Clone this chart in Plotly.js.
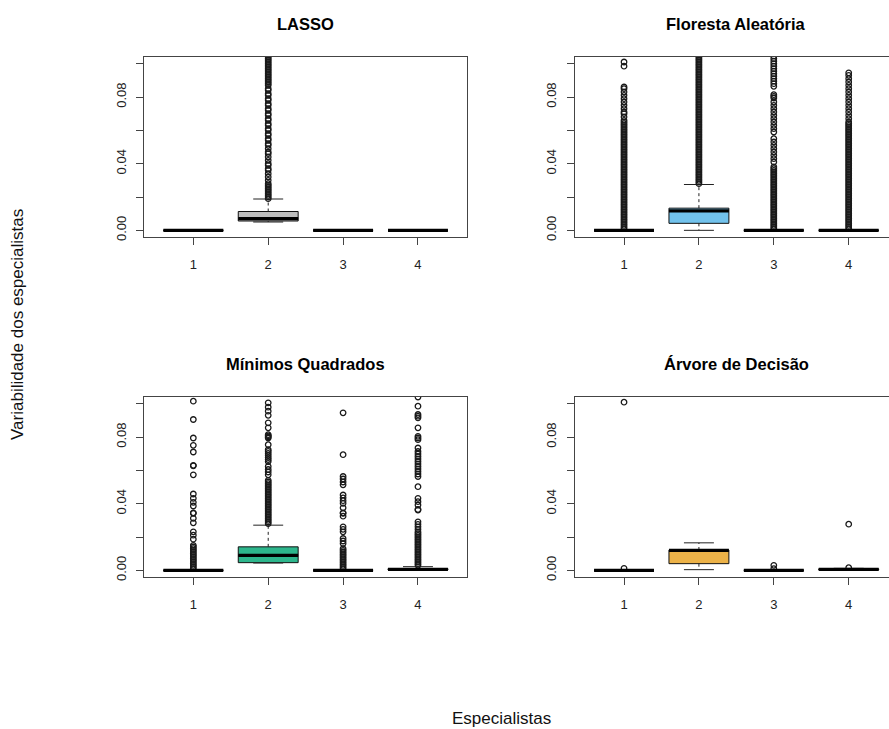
<!DOCTYPE html>
<html>
<head>
<meta charset="utf-8">
<script src="https://cdn.plot.ly/plotly-3.0.1.min.js"></script>
<style>
  html, body { margin: 0; padding: 0; background: #ffffff; }
  #chart { width: 889px; height: 729px; }
</style>
</head>
<body>
<div id="chart"></div>
<script>
// ---------------- DATA ----------------
const categories = ['1', '2', '3', '4'];
const panelTitles = ['LASSO', 'Floresta Aleatória', 'Mínimos Quadrados', 'Árvore de Decisão'];
const xAxisTitle = 'Especialistas';
const yAxisTitle = 'Variabilidade dos especialistas';
const yTickValues = [0, 0.02, 0.04, 0.06, 0.08, 0.10];
const yTickLabels = ['0.00', '', '0.04', '', '0.08', ''];

// LASSO
const lassoQ1     = [0, 0.0056, 0, 0];
const lassoMedian = [0, 0.0070, 0, 0];
const lassoQ3     = [0, 0.0113, 0, 0];
const lassoLower  = [0, 0.0050, 0, 0];
const lassoUpper  = [0, 0.0188, 0, 0];
const lassoOut1 = [];
const lassoOut2 = [0.019,0.020,0.021,0.022,0.023,0.024,0.025,0.026,0.027,0.028,
  0.030,0.032,0.034,0.036,0.037,0.039,0.040,0.042,0.044,0.046,0.047,0.049,0.051,0.052,
  0.054,0.055,0.057,0.058,0.060,0.061,0.063,0.064,0.066,0.067,0.069,0.070,0.072,0.073,
  0.075,0.076,0.078,0.079,0.081,0.082,0.084,0.085,0.087,
  0.088,0.089,0.090,0.091,0.092,0.093,0.094,0.095,0.096,0.097,0.098,0.099,0.100,0.101,
  0.102,0.103,0.104,0.105,0.106];
const lassoOut3 = [];
const lassoOut4 = [];

// Floresta Aleatória
const florestaQ1     = [0, 0.0042, 0, 0];
const florestaMedian = [0, 0.0117, 0, 0];
const florestaQ3     = [0, 0.0133, 0, 0];
const florestaLower  = [0, 0.0000, 0, 0];
const florestaUpper  = [0, 0.0275, 0, 0];
const florestaOut1 = [0.001,0.002,0.003,0.004,0.005,0.006,0.007,0.008,0.009,0.010,
  0.011,0.012,0.013,0.014,0.015,0.016,0.017,0.018,0.019,0.020,0.021,0.022,0.023,0.024,
  0.025,0.026,0.027,0.028,0.029,0.030,0.031,0.032,0.033,0.034,0.035,0.036,0.037,0.038,
  0.039,0.040,0.041,0.042,0.043,0.044,0.045,0.046,0.047,0.048,0.049,0.050,0.051,0.052,
  0.053,0.054,0.055,0.056,0.057,0.058,0.059,0.060,0.061,0.062,0.063,0.064,0.065,0.066,
  0.068,0.070,0.071,0.073,0.075,0.077,0.079,0.081,0.083,0.085,0.086,0.0985,0.101];
const florestaOut2 = [0.028,0.029,0.030,0.031,0.032,0.033,0.034,0.035,0.036,0.037,
  0.038,0.039,0.040,0.041,0.042,0.043,0.044,0.045,0.046,0.047,0.048,0.049,0.050,0.051,
  0.052,0.053,0.054,0.055,0.056,0.057,0.058,0.059,0.060,0.061,0.062,0.063,0.064,0.065,
  0.066,0.067,0.068,0.069,0.070,0.071,0.072,0.073,0.074,0.075,0.076,0.077,0.078,0.079,
  0.080,0.081,0.082,0.083,0.084,0.085,0.086,0.087,0.088,0.089,0.090,0.091,0.092,0.093,
  0.094,0.095,0.096,0.097,0.098,0.099,0.100,0.101,0.102,0.103,0.104,0.105,0.106];
const florestaOut3 = [0.001,0.002,0.003,0.004,0.005,0.006,0.007,0.008,0.009,0.010,
  0.011,0.012,0.013,0.014,0.015,0.016,0.017,0.018,0.019,0.020,0.021,0.022,0.023,0.024,
  0.025,0.026,0.027,0.028,0.029,0.030,0.031,0.032,0.033,0.034,0.035,0.036,0.037,0.038,
  0.041,0.043,0.045,0.047,0.049,0.051,0.053,0.055,
  0.059,0.061,0.063,0.065,0.067,0.069,0.071,0.073,0.075,0.077,
  0.0794,0.0804,0.0814,
  0.0864,0.088,0.0895,0.091,0.0925,0.094,0.0955,0.097,0.0985,0.100,0.1015,0.103,0.1045,0.106];
const florestaOut4 = [0.001,0.002,0.003,0.004,0.005,0.006,0.007,0.008,0.009,0.010,
  0.011,0.012,0.013,0.014,0.015,0.016,0.017,0.018,0.019,0.020,0.021,0.022,0.023,0.024,
  0.025,0.026,0.027,0.028,0.029,0.030,0.031,0.032,0.033,0.034,0.035,0.036,0.037,0.038,
  0.039,0.040,0.041,0.042,0.043,0.044,0.045,0.046,0.047,0.048,0.049,0.050,0.051,0.052,
  0.053,0.054,0.055,0.056,0.057,0.058,0.059,0.060,0.061,0.062,0.063,0.064,0.065,
  0.067,0.069,0.071,0.073,0.075,0.077,0.079,0.081,0.083,0.085,0.087,0.089,0.091,0.093,0.0945];

// Mínimos Quadrados
const minimosQ1     = [0, 0.0046, 0, 0.0002];
const minimosMedian = [0, 0.0090, 0, 0.0006];
const minimosQ3     = [0, 0.0141, 0, 0.0010];
const minimosLower  = [0, 0.0044, 0, 0.0000];
const minimosUpper  = [0, 0.0271, 0, 0.0022];
const minimosOut1 = [0.001,0.002,0.003,0.004,0.005,0.006,0.007,0.008,0.009,0.010,
  0.011,0.012,0.013,0.014,0.015,0.0187,0.0211,0.0231,0.0285,0.0312,0.0342,0.0345,0.0386,
  0.0408,0.0432,0.0458,0.0573,0.0627,0.0630,0.071,0.075,0.0794,0.0905,0.1015];
const minimosOut2 = [0.028,0.029,0.030,0.031,0.032,0.033,0.034,0.035,0.036,0.037,
  0.038,0.039,0.040,0.041,0.042,0.043,0.044,0.045,0.046,0.047,0.048,0.049,0.050,0.051,
  0.052,0.053,0.054,0.0573,0.0590,0.0605,0.0623,0.0653,0.0665,0.0677,0.0690,0.0702,
  0.0714,0.0724,0.0754,0.0794,0.0800,0.0807,0.0814,0.0855,0.0885,0.093,0.0955,0.0979,0.1005];
const minimosOut3 = [0.001,0.002,0.003,0.004,0.005,0.006,0.007,0.008,0.009,0.010,
  0.011,0.012,0.013,0.0161,0.0176,0.0191,0.0231,0.0246,0.0261,0.0325,0.0342,0.0345,
  0.0375,0.0402,0.0418,0.0435,0.0452,0.0513,0.0530,0.0548,0.0563,0.0694,0.0945];
const minimosOut4 = [0.003,0.004,0.005,0.006,0.007,0.008,0.009,0.010,0.011,0.012,
  0.013,0.014,0.015,0.016,0.017,0.018,0.019,0.020,0.021,0.022,0.023,0.0246,0.0261,
  0.0276,0.0291,0.0362,0.0365,0.0392,0.0412,0.0432,0.0502,0.0563,0.0578,0.0593,0.0608,
  0.0623,0.0638,0.0653,0.0668,0.0683,0.0698,0.0713,0.0734,0.0784,0.0794,0.0804,0.0855,
  0.0915,0.0925,0.0935,0.0985,0.104];

// Árvore de Decisão
const arvoreQ1     = [0, 0.0040, 0, 0.0002];
const arvoreMedian = [0, 0.0120, 0, 0.0006];
const arvoreQ3     = [0, 0.0122, 0, 0.0009];
const arvoreLower  = [0, 0.0004, 0, 0.0000];
const arvoreUpper  = [0, 0.0165, 0, 0.0012];
const arvoreOut1 = [0.0012, 0.1009];
const arvoreOut2 = [];
const arvoreOut3 = [0.0010, 0.0030];
const arvoreOut4 = [0.0016, 0.0277];

const boxColors = ['#bebebe', '#72c2ec', '#2db68c', '#ecb248'];

// ---------------- BUILD ----------------
const panels = [
  {q1: lassoQ1, med: lassoMedian, q3: lassoQ3, lo: lassoLower, hi: lassoUpper,
   out: [lassoOut1, lassoOut2, lassoOut3, lassoOut4]},
  {q1: florestaQ1, med: florestaMedian, q3: florestaQ3, lo: florestaLower, hi: florestaUpper,
   out: [florestaOut1, florestaOut2, florestaOut3, florestaOut4]},
  {q1: minimosQ1, med: minimosMedian, q3: minimosQ3, lo: minimosLower, hi: minimosUpper,
   out: [minimosOut1, minimosOut2, minimosOut3, minimosOut4]},
  {q1: arvoreQ1, med: arvoreMedian, q3: arvoreQ3, lo: arvoreLower, hi: arvoreUpper,
   out: [arvoreOut1, arvoreOut2, arvoreOut3, arvoreOut4]}
];

const xpos = categories.map((c, i) => i + 1);
const boxW = 0.8;
const traces = [];

panels.forEach((p, k) => {
  const xa = k === 0 ? 'x' : 'x' + (k + 1);
  const ya = k === 0 ? 'y' : 'y' + (k + 1);
  xpos.forEach((xv, i) => {
    traces.push({
      type: 'box', xaxis: xa, yaxis: ya, x: [xv],
      q1: [p.q1[i]], median: [p.med[i]], q3: [p.q3[i]],
      lowerfence: [p.q1[i]], upperfence: [p.q3[i]],
      width: boxW, whiskerwidth: 0,
      fillcolor: boxColors[k], line: {color: '#111111', width: 1},
      boxpoints: false, showlegend: false, hoverinfo: 'skip'
    });
  });
  const wx = [], wy = [];
  const cx = [], cy = [];
  const mx = [], my = [];
  xpos.forEach((xv, i) => {
    wx.push(xv, xv, null, xv, xv, null);
    wy.push(p.q3[i], p.hi[i], null, p.q1[i], p.lo[i], null);
    cx.push(xv - boxW / 4, xv + boxW / 4, null, xv - boxW / 4, xv + boxW / 4, null);
    cy.push(p.hi[i], p.hi[i], null, p.lo[i], p.lo[i], null);
    mx.push(xv - boxW / 2, xv + boxW / 2, null);
    my.push(p.med[i], p.med[i], null);
  });
  traces.push({type: 'scatter', mode: 'lines', xaxis: xa, yaxis: ya, x: wx, y: wy,
    line: {color: '#222222', width: 1, dash: '3px,3px'}, showlegend: false, hoverinfo: 'skip'});
  traces.push({type: 'scatter', mode: 'lines', xaxis: xa, yaxis: ya, x: cx, y: cy,
    line: {color: '#222222', width: 1}, showlegend: false, hoverinfo: 'skip'});
  const ox = [], oy = [];
  p.out.forEach((arr, i) => arr.forEach(v => { ox.push(xpos[i]); oy.push(v); }));
  traces.push({type: 'scatter', mode: 'markers', xaxis: xa, yaxis: ya, x: ox, y: oy,
    marker: {symbol: 'circle-open', size: 5.5, color: '#1a1a1a', line: {width: 1.3, color: '#1a1a1a'}},
    showlegend: false, hoverinfo: 'skip'});
  traces.push({type: 'scatter', mode: 'lines', xaxis: xa, yaxis: ya, x: mx, y: my,
    line: {color: '#000000', width: 3.2}, showlegend: false, hoverinfo: 'skip'});
});

const W = 889, H = 729;
const font = 'Liberation Sans, Arial, sans-serif';
function xAxis(d0, d1, r1, anchor) {
  return {domain: [d0 / W, d1 / W], range: [0.34, r1], anchor: anchor,
    tickvals: xpos, ticktext: categories, ticks: 'outside', ticklen: 7, tickcolor: '#444',
    showline: true, mirror: true, linecolor: '#444', linewidth: 1,
    showgrid: false, zeroline: false, ticklabelstandoff: 8,
    tickfont: {family: font, size: 13, color: '#222'}, fixedrange: true};
}
function yAxis(top, bottom, anchor) {
  return {domain: [1 - bottom / H, 1 - top / H], range: [-0.004, 0.104], anchor: anchor,
    tickvals: yTickValues, ticktext: yTickLabels, tickangle: -90,
    ticks: 'outside', ticklen: 7, tickcolor: '#444',
    showline: true, mirror: true, linecolor: '#444', linewidth: 1,
    showgrid: false, zeroline: false, ticklabelstandoff: 5,
    tickfont: {family: font, size: 13, color: '#222'}, fixedrange: true};
}

const layout = {
  width: W, height: H,
  margin: {l: 0, r: 0, t: 0, b: 0},
  paper_bgcolor: '#ffffff', plot_bgcolor: '#ffffff',
  showlegend: false,
  xaxis:  xAxis(143.9, 467.4, 4.66, 'y'),
  yaxis:  yAxis(57, 237, 'x'),
  xaxis2: xAxis(574.6, 889, 4.538, 'y2'),
  yaxis2: yAxis(57, 237, 'x2'),
  xaxis3: xAxis(143.9, 467.4, 4.66, 'y3'),
  yaxis3: yAxis(397, 577, 'x3'),
  xaxis4: xAxis(574.6, 889, 4.538, 'y4'),
  yaxis4: yAxis(397, 577, 'x4'),
  annotations: [
    {text: '<b>' + panelTitles[0] + '</b>', x: 305.6 / W, y: 1 - 24 / H},
    {text: '<b>' + panelTitles[1] + '</b>', x: 736.4 / W, y: 1 - 24 / H},
    {text: '<b>' + panelTitles[2] + '</b>', x: 305.6 / W, y: 1 - 364 / H},
    {text: '<b>' + panelTitles[3] + '</b>', x: 736.4 / W, y: 1 - 364 / H},
  ].map(a => Object.assign(a, {xref: 'paper', yref: 'paper', showarrow: false,
      xanchor: 'center', yanchor: 'middle', font: {family: font, size: 16.5, color: '#000'}}))
   .concat([
    {text: xAxisTitle, x: 502 / W, y: 1 - 718 / H, xref: 'paper', yref: 'paper',
     showarrow: false, xanchor: 'center', yanchor: 'middle',
     font: {family: font, size: 17, color: '#111'}},
    {text: yAxisTitle, x: 18 / W, y: 1 - 325 / H, xref: 'paper', yref: 'paper',
     showarrow: false, xanchor: 'center', yanchor: 'middle', textangle: -90,
     font: {family: font, size: 17, color: '#111'}}
  ])
};

Plotly.newPlot('chart', traces, layout, {displayModeBar: false, staticPlot: true});
</script>
</body>
</html>
